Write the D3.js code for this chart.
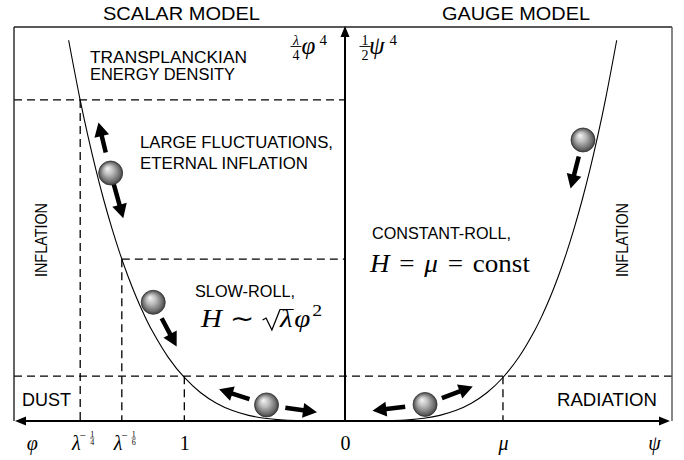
<!DOCTYPE html>
<html><head><meta charset="utf-8">
<script src="https://cdn.jsdelivr.net/npm/d3@7"></script>
<style>body{margin:0;background:#fff}svg{display:block}</style>
</head><body>
<script>
// ---------- data ----------
const fieldSamples = [-1.72,-1.65,-1.6,-1.55,-1.5,-1.45,-1.4,-1.35,-1.3,-1.25,-1.2,-1.1,-1.0,-0.9,-0.8,-0.7,-0.6,-0.5,-0.4,-0.3,-0.2,-0.1,0,
  0.1,0.2,0.3,0.4,0.5,0.6,0.7,0.8,0.9,1.0,1.1,1.2,1.25,1.3,1.35,1.4,1.45,1.5,1.55,1.6,1.65,1.72];
const potentialSamples = [8.752,7.412,6.554,5.772,5.063,4.421,3.842,3.322,2.856,2.441,2.074,1.464,1.0,0.656,0.410,0.240,0.130,0.0625,0.0256,0.0081,0.0016,0.0001,0,
  0.0001,0.0016,0.0081,0.0256,0.0625,0.130,0.240,0.410,0.656,1.0,1.464,2.074,2.441,2.856,3.322,3.842,4.421,5.063,5.772,6.554,7.412,8.752];
const levelValues = [7.38, 3.72, 1.03];          // Planck density, end of eternal inflation, end of inflation
const tickFields = [-1.95, -1.648, -1.389, -1, 0, 1, 1.956];
const tickLabels = [{b:"φ",i:true},{b:"λ",i:true,n:"1",d:"4"},{b:"λ",i:true,n:"1",d:"6"},{b:"1"},{b:"0"},{b:"μ",i:true},{b:"ψ",i:true}];
const ballFields = [-1.54, -1.27, -0.5, 0.52, 1.59];
const titleTexts = ["SCALAR MODEL", "GAUGE MODEL"];
const regionTexts = ["TRANSPLANCKIAN","ENERGY DENSITY","LARGE FLUCTUATIONS,","ETERNAL INFLATION","SLOW-ROLL,","CONSTANT-ROLL,","DUST","RADIATION","INFLATION","INFLATION"];

// ---------- layout ----------
const W = 684, H = 460;
const x = d3.scaleLinear().domain([-2.06, 0, 2.07]).range([14, 345, 672]);
const y = d3.scaleLinear().domain([0, 9.057]).range([421, 27]);
const SANS = "'Liberation Sans', Arial, sans-serif";
const SERIF = "'Liberation Serif', 'Times New Roman', serif";

const svg = d3.select("body").append("svg").attr("width", W).attr("height", H)
  .style("font-family", SANS);
const defs = svg.append("defs");
const grad = defs.append("radialGradient").attr("id", "ballGrad")
  .attr("cx", "50%").attr("cy", "50%").attr("r", "50%").attr("fx", "36%").attr("fy", "30%");
[["0%","#f6f6f6"],["40%","#bcbcbc"],["85%","#666"],["100%","#3c3c3c"]].forEach(s =>
  grad.append("stop").attr("offset", s[0]).attr("stop-color", s[1]));

// ---------- dashed guide lines ----------
const dash = svg.append("g").attr("stroke", "#000").attr("stroke-width", 1.3)
  .attr("stroke-dasharray", "8,5").attr("fill", "none");
const hLines = [
  {v: levelValues[0], x0: x.range()[0], x1: x(0)},
  {v: levelValues[1], x0: x(tickFields[2]), x1: x(0)},
  {v: levelValues[2], x0: x.range()[0], x1: x.range()[2]}
];
dash.selectAll("line.h").data(hLines).join("line").attr("class", "h")
  .attr("x1", d => d.x0).attr("x2", d => d.x1).attr("y1", d => y(d.v)).attr("y2", d => y(d.v));
const vLines = [
  {f: tickFields[1], v: levelValues[0]},
  {f: tickFields[2], v: levelValues[1]},
  {f: tickFields[3], v: levelValues[2]},
  {f: tickFields[5], v: levelValues[2]}
];
dash.selectAll("line.v").data(vLines).join("line").attr("class", "v")
  .attr("x1", d => x(d.f)).attr("x2", d => x(d.f)).attr("y1", d => y(d.v)).attr("y2", y(0));

// ---------- potential curve ----------
const pts = fieldSamples.map((f, i) => [f, potentialSamples[i]]);
const curve = svg.append("path").datum(pts)
  .attr("d", d3.line().x(d => x(d[0])).y(d => y(d[1])).curve(d3.curveCatmullRom.alpha(0.5)))
  .attr("fill", "none").attr("stroke", "#000").attr("stroke-width", 1.1);

// ---------- frame & axes ----------
const frame = svg.append("g").attr("stroke", "#222").attr("stroke-width", 1.4).attr("fill", "none");
frame.append("line").attr("x1", x.range()[0]).attr("x2", x.range()[2]).attr("y1", y.range()[1]).attr("y2", y.range()[1]);
frame.append("line").attr("x1", x.range()[0]).attr("x2", x.range()[0]).attr("y1", y.range()[1]).attr("y2", y(0));
frame.append("line").attr("x1", x.range()[2]).attr("x2", x.range()[2]).attr("y1", y.range()[1]).attr("y2", y(0)).attr("stroke", "#555");

function arrowPoly(x0, y0, x1, y1, w, hl, hw) {
  const dx = x1 - x0, dy = y1 - y0, L = Math.hypot(dx, dy);
  const ux = dx / L, uy = dy / L, nx = -uy, ny = ux;
  const bx = x1 - ux * hl, by = y1 - uy * hl;
  return [[x0 + nx * w / 2, y0 + ny * w / 2], [bx + nx * w / 2, by + ny * w / 2], [bx + nx * hw, by + ny * hw],
          [x1, y1], [bx - nx * hw, by - ny * hw], [bx - nx * w / 2, by - ny * w / 2], [x0 - nx * w / 2, y0 - ny * w / 2]]
         .map(p => p.join(",")).join(" ");
}
const axes = svg.append("g").attr("fill", "#000");
axes.append("polygon").attr("points", arrowPoly(x(0), y(0), x.range()[0] + 1, y(0), 2, 11, 4.5));
axes.append("polygon").attr("points", arrowPoly(x(0), y(0), x.range()[2] - 2, y(0), 2, 11, 4.5));
axes.append("polygon").attr("points", arrowPoly(x(0), y(0), x(0), y.range()[1] - 1, 2, 11, 4.5));

// ---------- tick labels ----------
const axisG = svg.append("g").attr("transform", `translate(0,${y(0)})`)
  .call(d3.axisBottom(x).tickValues(tickFields).tickSize(0).tickFormat(""));
axisG.select(".domain").remove();
axisG.selectAll(".tick text").remove();
axisG.selectAll(".tick").each(function(d, i) {
  const lab = tickLabels[i];
  const g = d3.select(this).attr("fill", "#000");
  const base = g.append("text").attr("y", 29).attr("fill", "#000")
    .style("font-family", SERIF).style("font-size", "20px")
    .style("font-style", lab.i ? "italic" : "normal").text(lab.b);
  if (lab.n) {
    base.attr("x", 0).attr("text-anchor", "end");
    const sup = g.append("g").attr("fill", "#000").style("font-family", SERIF);
    sup.append("text").attr("x", 2).attr("y", 18).style("font-size", "11px").text("−");
    sup.append("text").attr("x", 11.5).attr("y", 15.5).attr("text-anchor", "middle").style("font-size", "8px").text(lab.n);
    sup.append("line").attr("x1", 9.3).attr("x2", 13.7).attr("y1", 17).attr("y2", 17).attr("stroke", "#000").attr("stroke-width", 0.6);
    sup.append("text").attr("x", 11.5).attr("y", 23.5).attr("text-anchor", "middle").style("font-size", "8px").text(lab.d);
  } else {
    base.attr("x", 0).attr("text-anchor", "middle");
  }
});

// ---------- balls & arrows ----------
const node = curve.node(), total = node.getTotalLength();
function lengthAtX(px) {
  let lo = 0, hi = total;
  for (let k = 0; k < 40; k++) { const m = (lo + hi) / 2; if (node.getPointAtLength(m).x < px) lo = m; else hi = m; }
  return (lo + hi) / 2;
}
const R = 12;
const balls = ballFields.map(f => {
  const l = lengthAtX(x(f));
  const p = node.getPointAtLength(l), a = node.getPointAtLength(Math.max(0, l - 1)), b = node.getPointAtLength(Math.min(total, l + 1));
  let tx = b.x - a.x, ty = b.y - a.y; const tl = Math.hypot(tx, ty); tx /= tl; ty /= tl;
  let nx = ty, ny = -tx; if (ny > 0) { nx = -nx; ny = -ny; }
  return {cx: p.x + nx * (R + 1.5), cy: p.y + ny * (R + 1.5)};
});
const arrowSpecs = [
  {ball: 0, angle: -103.5, from: 21, to: 52},
  {ball: 0, angle: 74.4, from: 11, to: 47},
  {ball: 1, angle: 62.1, from: 18, to: 50},
  {ball: 2, angle: -161.6, from: 18, to: 50},
  {ball: 2, angle: 8.4, from: 19, to: 51},
  {ball: 3, angle: 173.2, from: 20, to: 53},
  {ball: 3, angle: -20.7, from: 18, to: 51},
  {ball: 4, angle: 104.4, from: 17, to: 50}
];
svg.append("g").selectAll("polygon").data(arrowSpecs).join("polygon")
  .attr("fill", "#000")
  .attr("points", d => {
    const c = balls[d.ball], a = d.angle * Math.PI / 180, ux = Math.cos(a), uy = Math.sin(a);
    return arrowPoly(c.cx + ux * d.from, c.cy + uy * d.from, c.cx + ux * d.to, c.cy + uy * d.to, 4.5, 14, 7.5);
  });
svg.append("g").selectAll("circle").data(balls).join("circle")
  .attr("cx", d => d.cx).attr("cy", d => d.cy).attr("r", R)
  .attr("fill", "url(#ballGrad)").attr("stroke", "#333").attr("stroke-width", 0.8);

// ---------- text ----------
function sans(t, px, py, fs, len, anchor, rot) {
  const el = svg.append("text").attr("x", px).attr("y", py).attr("fill", "#000")
    .style("font-size", fs + "px").attr("text-anchor", anchor || "start").text(t);
  if (len) el.attr("textLength", len).attr("lengthAdjust", "spacingAndGlyphs");
  if (rot) el.attr("transform", `rotate(${rot},${px},${py})`);
  return el;
}
sans(titleTexts[0], 181.5, 20, 18, 157, "middle");
sans(titleTexts[1], 516, 20, 18, 148, "middle");
sans(regionTexts[0], 90, 62.5, 16, 157);
sans(regionTexts[1], 90, 80, 16, 145);
sans(regionTexts[2], 140, 148, 16.5, 193);
sans(regionTexts[3], 140, 169, 16.5, 168);
sans(regionTexts[4], 195, 297, 16.5, 100);
sans(regionTexts[5], 372, 239, 16.5, 139);
sans(regionTexts[6], 22, 405.5, 17.5, 49);
sans(regionTexts[7], 657, 405.5, 17.5, 100, "end");
sans(regionTexts[8], 47, 240, 16, 74, "middle", -90);
sans(regionTexts[9], 628, 240, 16, 74, "middle", -90);

// math helpers
function serif(t, px, py, fs, italic, anchor) {
  return svg.append("text").attr("x", px).attr("y", py).attr("fill", "#000")
    .style("font-family", SERIF).style("font-size", fs + "px")
    .style("font-style", italic ? "italic" : "normal").attr("text-anchor", anchor || "start").text(t);
}
function mathRow(x0, base, targetW, pieces) {
  const g = svg.append("g").attr("fill", "#000").style("font-family", SERIF);
  let cx = 0; const pos = [];
  pieces.forEach(p => {
    cx += p.gap || 0;
    if (p.radical) { pos.push({x0: cx, x1: cx + p.radical}); cx += p.radical; return; }
    const t = g.append("text").attr("x", cx).attr("y", -(p.raise || 0))
      .style("font-size", (p.fs || 24) + "px").style("font-style", p.it ? "italic" : "normal").text(p.t);
    const w = t.node().getComputedTextLength();
    pos.push({x0: cx, x1: cx + w}); cx += w;
  });
  const sx = targetW / cx;
  g.attr("transform", `translate(${x0},${base}) scale(${sx},1)`);
  return {g, pos};
}

// λ/4 φ^4
serif("λ", 296, 44.5, 14, true, "middle");
svg.append("line").attr("x1", 290.5).attr("x2", 301.5).attr("y1", 46.5).attr("y2", 46.5).attr("stroke", "#000").attr("stroke-width", 0.9);
serif("4", 296, 60, 14, false, "middle");
serif("φ", 301.5, 54, 25, true);
serif("4", 319.5, 44.5, 15, false);
// 1/2 ψ^4
serif("1", 365, 44.5, 14, false, "middle");
svg.append("line").attr("x1", 359.5).attr("x2", 370.5).attr("y1", 46.5).attr("y2", 46.5).attr("stroke", "#000").attr("stroke-width", 0.9);
serif("2", 365, 60, 14, false, "middle");
serif("ψ", 369, 54, 25, true);
serif("4", 389.5, 44.5, 15, false);

// H ~ sqrt(lambda) phi^2
const hsRow = mathRow(201, 327, 121, [
  {t: "H", it: true, fs: 25},
  {t: "∼", fs: 25, gap: 7},
  {radical: 15, gap: 7},
  {t: "λ", it: true, fs: 25},
  {t: "φ", it: true, fs: 25, gap: 1.5},
  {t: "2", fs: 17, raise: 11, gap: 1.5}
]);
{
  const r = hsRow.pos[2], l = hsRow.pos[3];
  hsRow.g.append("path")
    .attr("d", `M${r.x0},-7 L${r.x0 + 3},-9 L${r.x0 + 8},3 L${r.x1},-17.5 L${l.x1 + 1},-17.5`)
    .attr("fill", "none").attr("stroke", "#000").attr("stroke-width", 1.1);
}

// H = mu = const
mathRow(370, 272, 160, [
  {t: "H", it: true, fs: 25},
  {t: "=", fs: 25, gap: 9},
  {t: "μ", it: true, fs: 25, gap: 9},
  {t: "=", fs: 25, gap: 9},
  {t: "const", fs: 25, gap: 9}
]);
</script>
</body></html>
